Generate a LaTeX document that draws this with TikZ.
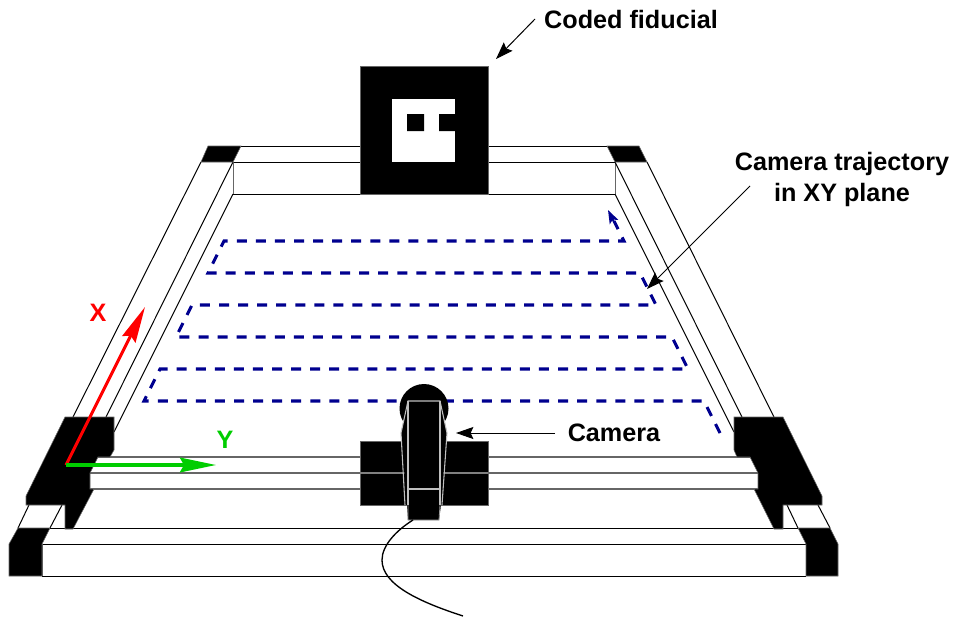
\documentclass[tikz,border=0pt]{standalone}
\usepackage{fontspec}
\setmainfont{Liberation Sans}
\usetikzlibrary{arrows.meta}
\definecolor{trajblue}{RGB}{0,0,143}
\definecolor{axisgreen}{RGB}{0,205,0}
\tikzset{
  rail/.style={draw=black, line width=0.75pt},
  solid black/.style={fill=black, draw=black!60, line width=0.4pt},
  camline/.style={draw=black!25, line width=0.8pt},
  label/.style={font=\bfseries\fontsize{18.9}{23}\selectfont, align=center, inner sep=0pt},
  leader/.style={draw=black, line width=0.75pt, -{Stealth[length=13pt,width=9pt,inset=2pt]}},
  axis/.style={line width=2.3pt, -{Stealth[length=27pt,width=11pt,inset=3pt]}},
  traj/.style={draw=trajblue, line width=2.3pt, dash pattern=on 7.5pt off 6.8pt}
}
\begin{document}
\begin{tikzpicture}[x=0.75pt, y=-0.75pt]
\useasboundingbox (0,0) rectangle (954,618);
% frame
\draw[rail] (241,146) -- (607,146) (233,162) -- (615,162) (233,194) -- (615,194);
\draw[draw=black!60, line width=0.75pt] (233,162) -- (233,194) (615,162) -- (615,194);
\draw[rail] (201,162) -- (73,417) (233,162) -- (106,417) (233,194) -- (114,432);
\draw[rail] (647,162) -- (774,417) (615,162) -- (742,417) (615,194) -- (734,432);
\draw[rail] (29,505) -- (18,528) (62,505) -- (50,528);
\draw[rail] (787,505) -- (798,528) (818,505) -- (830,528);
\draw[rail] (50,528) -- (798,528) (42,544) -- (806,544) (42,576) -- (806,576);
\draw[draw=black!60, line width=0.75pt] (42,544) -- (42,576) (806,544) -- (806,576);
% corners
\fill[solid black] (208,146) -- (241,146) -- (233,162) -- (201,162) -- cycle;
\fill[solid black] (607,146) -- (639,146) -- (647,162) -- (615,162) -- cycle;
\fill[solid black] (18,528) -- (50,528) -- (42,544) -- (42,576) -- (9,576) -- (9,544) -- cycle;
\fill[solid black] (798,528) -- (830,528) -- (838,544) -- (838,576) -- (806,576) -- (806,544) -- cycle;
% carriage
\draw[draw=black!60, line width=0.9pt] (98,457) -- (750,457) (90,473) -- (758,473) (90,489) -- (758,489);
\fill[solid black] (65,417) -- (114,417) -- (114,450) -- (110,457) -- (98,457) -- (90,473) -- (90,489) -- (94,489) -- (73,529) -- (65,529) -- (65,505) -- (26,505) -- (26,496) -- cycle;
\fill[solid black] (734,417) -- (783,417) -- (822,496) -- (822,505) -- (783,505) -- (783,529) -- (774,529) -- (754,489) -- (758,489) -- (758,473) -- (750,457) -- (737,457) -- (734,450) -- cycle;
% fiducial
\fill[solid black] (360,66) rectangle (488,194);
\fill[white] (392,99) rectangle (455,162);
\fill[black] (407,114) rectangle (424,131) (439,114) rectangle (455,131);
% trajectory
\coordinate (traj_end) at (608,210);
\draw[traj] (720,433) -- (704,401) -- (144,401) -- (160,369) -- (688,369) -- (672,337) -- (176,337) -- (192,305) -- (656,305) -- (640,273) -- (208,273) -- (224,241) -- (624,241) -- (614,221);
\draw[draw=trajblue, line width=1.5pt, -{Stealth[length=10pt,width=7pt,inset=2pt]}] (614,222) -- (traj_end);
% camera
\fill[solid black] (360,441) rectangle (488,505);
\draw[draw=black!50, line width=0.9pt] (360,473) -- (488,473);
\fill[black] (424,408.5) circle (24.5);
\fill[black] (408,401) -- (440,401) -- (447,433) -- (441,505) -- (439,520) -- (408,520) -- (407,505) -- (401,433) -- cycle;
\draw[camline] (405,505) -- (401,433) -- (408,401) -- (440,401) -- (447,433) -- (442,505);
\draw[camline] (408,401) -- (408,505) (440,401) -- (440,505) (408,489) -- (440,489);
\draw[draw=black!40, line width=0.6pt] (408,505) -- (408,520) -- (439,520) -- (440,505);
% cable
\coordinate (cable_a) at (413,520);
\coordinate (cable_b) at (463,616);
\draw[rail, line width=1pt] (cable_a) .. controls (397,530) and (382,545) .. (382,560) .. controls (382,585) and (420,602) .. (cable_b);
% axes
\coordinate (origin) at (66,465);
\coordinate (x_tip) at (145,307);
\coordinate (y_tip) at (216,465);
\draw[axis, red] (origin) -- (x_tip);
\draw[axis, axisgreen] (origin) -- (y_tip);
\node[label, red] (x_label) at (98,313) {X};
\node[label, axisgreen] (y_label) at (225,440) {Y};
% labels
\node[label] (fiducial_label) at (631,19) {Coded fiducial};
\node[label] (trajectory_label) at (842,179.5) {Camera trajectory\\in XY plane};
\node[label] (camera_label) at (614,433) {Camera};
\coordinate (fiducial_from) at (535,19);
\coordinate (fiducial_to) at (496,59);
\coordinate (trajectory_from) at (750,186);
\coordinate (trajectory_to) at (647,289);
\coordinate (camera_from) at (555,433);
\coordinate (camera_to) at (456,433);
\draw[leader] (fiducial_from) -- (fiducial_to);
\draw[leader] (trajectory_from) -- (trajectory_to);
\draw[leader] (camera_from) -- (camera_to);
\end{tikzpicture}
\end{document}
